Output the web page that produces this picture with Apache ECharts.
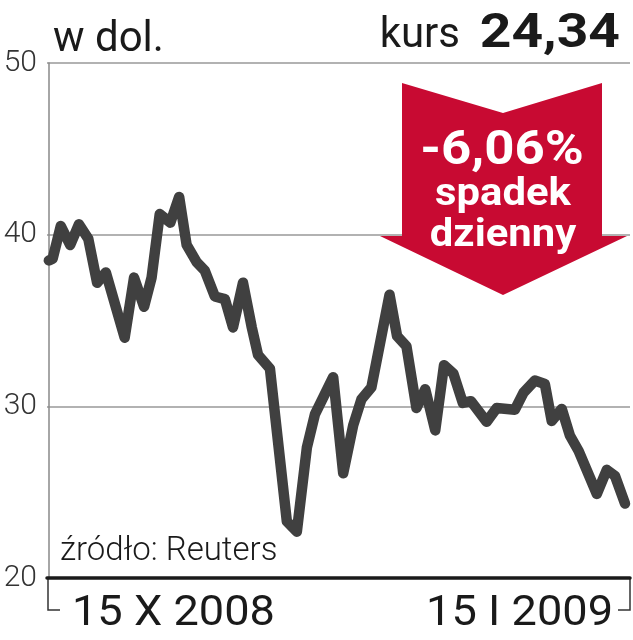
<!DOCTYPE html>
<html>
<head>
<meta charset="utf-8">
<script src="https://cdn.jsdelivr.net/npm/echarts@6/dist/echarts.min.js"></script>
<style>
html,body{margin:0;padding:0;background:#fff;}
#chart{width:633px;height:640px;}
</style>
</head>
<body>
<div id="chart"></div>
<script>
// days since 15 X 2008
const days = [0, 0.6, 1.9, 3.4, 4.8, 6.3, 7.7, 9.1, 12.1, 13.6, 15.2, 16.4, 17.7, 19.4, 20.8, 22.0, 23.6, 24.9, 26.5, 28.1, 29.4, 31.0, 32.4, 33.4, 35.3, 38.0, 39.6, 41.2, 42.5, 45.4, 47.0, 48.6, 49.9, 51.5, 54.4, 55.6, 57.1, 58.7, 60.1, 61.7, 63.1, 64.6, 66.1, 67.4, 69.9, 71.5, 74.4, 75.8, 77.6, 79.2, 80.3, 81.9, 83.2, 84.6, 87.5, 89.1, 90.4, 92.0];
const prices = [38.5, 38.6, 40.5, 39.4, 40.6, 39.75, 37.2, 37.8, 34.0, 37.5, 35.8, 37.5, 41.2, 40.7, 42.2, 39.4, 38.4, 37.9, 36.4, 36.25, 34.6, 37.2, 34.6, 33.0, 32.2, 23.3, 22.7, 27.6, 29.55, 31.7, 26.1, 28.9, 30.4, 31.1, 36.5, 34.1, 33.5, 29.9, 31.0, 28.6, 32.4, 31.9, 30.2, 30.3, 29.1, 29.9, 29.8, 30.8, 31.5, 31.3, 29.15, 29.85, 28.3, 27.4, 24.9, 26.3, 25.95, 24.34];
const xLabels = ['15 X 2008', '15 I 2009'];
const unitLabel = 'w dol.';
const kursLabel = 'kurs';
const kursValue = '24,34';
const changeText = '-6,06%';
const changeLine1 = 'spadek';
const changeLine2 = 'dzienny';
const sourceText = 'źródło: Reuters';

const chart = echarts.init(document.getElementById('chart'), null, {renderer: 'canvas'});
const F = 'Roboto, "Noto Sans", sans-serif';
const option = {
  animation: false,
  backgroundColor: '#fff',
  grid: {left: 47, right: 3, top: 63, bottom: 62},
  xAxis: {
    type: 'value', min: -0.3, max: 92.8,
    axisLine: {show: true, onZero: false, lineStyle: {color: '#1a1a1a', width: 3.5}},
    axisTick: {show: false}, axisLabel: {show: false}, splitLine: {show: false}
  },
  yAxis: {
    type: 'value', min: 20, max: 50, interval: 10,
    axisLine: {show: true, lineStyle: {color: '#888', width: 1.5}},
    axisTick: {show: false},
    axisLabel: {fontFamily: F, fontWeight: 300, fontSize: 30, color: '#333', margin: 10},
    splitLine: {lineStyle: {color: '#999', width: 1.5}}
  },
  series: [{
    type: 'line', data: days.map((d, i) => [d, prices[i]]),
    showSymbol: false, z: 5,
    lineStyle: {color: '#404040', width: 10.5, join: 'round', cap: 'round'}
  }],
  graphic: [
    {type: 'polygon', z: 3, shape: {points: [[402,83],[503,113],[602,83],[602,236],[627,236],[503,295],[380,236],[402,236]]}, style: {fill: '#c80a32'}},
    {type: 'text', z: 6, x: 502, y: 152, scaleX: 1.1, style: {text: changeText, font: 'bold 48px ' + F, fill: '#fff', align: 'center', verticalAlign: 'middle'}},
    {type: 'text', z: 6, x: 503, y: 195, scaleX: 1.1, style: {text: changeLine1, font: 'bold 38px ' + F, fill: '#fff', align: 'center', verticalAlign: 'middle'}},
    {type: 'text', z: 6, x: 503, y: 236, scaleX: 1.1, style: {text: changeLine2, font: 'bold 38px ' + F, fill: '#fff', align: 'center', verticalAlign: 'middle'}},
    {type: 'text', x: 53, y: 40, style: {text: unitLabel, font: '42px ' + F, fill: '#1a1a1a', align: 'left', verticalAlign: 'middle'}},
    {type: 'text', x: 460, y: 36, style: {text: kursLabel, font: '42px ' + F, fill: '#1a1a1a', align: 'right', verticalAlign: 'middle'}},
    {type: 'text', x: 620, y: 35, scaleX: 1.15, style: {text: kursValue, font: 'bold 48px ' + F, fill: '#1a1a1a', align: 'right', verticalAlign: 'middle'}},
    {type: 'text', x: 60, y: 552, style: {text: sourceText, font: '300 33px ' + F, fill: '#1a1a1a', align: 'left', verticalAlign: 'middle'}},
    {type: 'text', x: 72, y: 614, scaleX: 1.05, style: {text: xLabels[0], font: '43px ' + F, fill: '#1a1a1a', align: 'left', verticalAlign: 'middle'}},
    {type: 'text', x: 613, y: 614, scaleX: 1.05, style: {text: xLabels[1], font: '43px ' + F, fill: '#1a1a1a', align: 'right', verticalAlign: 'middle'}},
    {type: 'polyline', shape: {points: [[48,578],[48,610],[60,610]]}, style: {stroke: '#333', lineWidth: 1.5, fill: null}},
    {type: 'polyline', shape: {points: [[618,610],[630,610],[630,578]]}, style: {stroke: '#333', lineWidth: 1.5, fill: null}}
  ]
};
chart.setOption(option);
</script>
</body>
</html>
